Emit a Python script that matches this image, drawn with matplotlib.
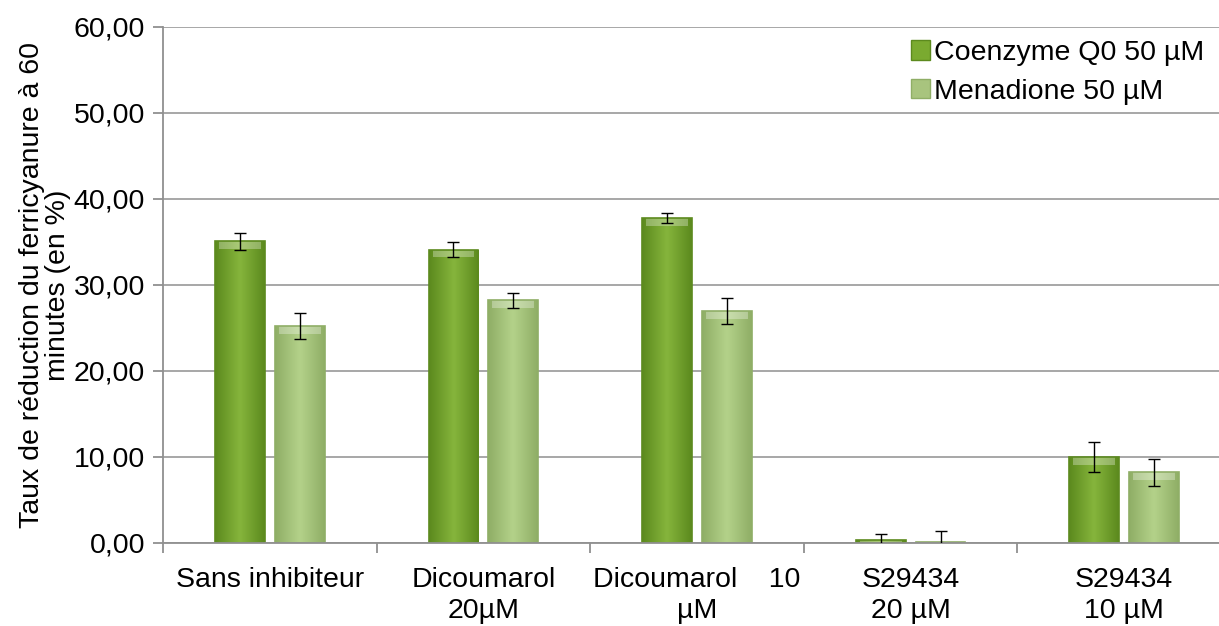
import numpy as np
import matplotlib.pyplot as plt
from matplotlib.colors import LinearSegmentedColormap
from matplotlib.ticker import FuncFormatter, FixedLocator

plt.rcParams['font.family'] = ['Liberation Sans', 'DejaVu Sans']

categories = ['Sans inhibiteur', 'Dicoumarol\n20µM', 'Dicoumarol    10\nµM',
              'S29434\n20 µM', 'S29434\n10 µM']
series = ['Coenzyme Q0 50 µM', 'Menadione 50 µM']
coq0 = [35.1, 34.1, 37.8, 0.4, 10.0]
coq0_err = [1.0, 0.9, 0.6, 0.6, 1.8]
mena = [25.2, 28.2, 27.0, 0.15, 8.2]
mena_err = [1.5, 0.9, 1.5, 1.3, 1.6]

# edge / centre / edge shades for the bevel look
shades = [['#5c8a1e', '#86b53c', '#5c8a1e'],
          ['#8fae66', '#b4d28a', '#8fae66']]
legend_colors = ['#7aaa30', '#a8c47e']
fs = 20.5

fig = plt.figure(figsize=(12.19, 6.26), dpi=100)
ax = fig.add_axes([163 / 1219, 83 / 626, 1068 / 1219, 516 / 626])

x = np.arange(len(categories))
w = 0.234
off = 0.14

for i, (vals, errs) in enumerate([(coq0, coq0_err), (mena, mena_err)]):
    pos = x - off if i == 0 else x + off
    bars = ax.bar(pos, vals, w, color=legend_colors[i], edgecolor='none', zorder=2)
    cmap = LinearSegmentedColormap.from_list('s%d' % i, shades[i])
    grad = np.linspace(0, 1, 64).reshape(1, -1)
    for b in bars:
        bx, bw, bh = b.get_x(), b.get_width(), b.get_height()
        im = ax.imshow(grad, cmap=cmap, aspect='auto', extent=(bx, bx + bw, 0, bh),
                       zorder=2.1, interpolation='bicubic')
        im.set_clip_path(b)
        # lighter top cap
        cap = min(0.9, bh)
        ax.add_patch(plt.Rectangle((bx + bw * 0.08, bh - cap), bw * 0.84, cap,
                                   color='white', alpha=0.3, lw=0, zorder=2.2))
        ax.add_patch(plt.Rectangle((bx, 0), bw, bh, fill=False,
                                   edgecolor=shades[i][0], lw=1.2, zorder=2.3))
    ax.errorbar(pos, vals, yerr=errs, fmt='none', ecolor='black', elinewidth=1,
                capsize=4.5, capthick=1, zorder=3)

ax.set_xlim(-0.5, len(categories) - 0.5)
ax.set_ylim(0, 60)
ax.set_yticks(np.arange(0, 61, 10))
ax.yaxis.set_major_formatter(FuncFormatter(lambda v, p: ('%.2f' % v).replace('.', ',')))
ax.grid(axis='y', color='#a0a0a0', lw=1.3, zorder=0)
ax.set_axisbelow(True)

ax.set_xticks(x)
ax.set_xticklabels(categories, fontsize=fs, linespacing=1.25)
ax.xaxis.set_minor_locator(FixedLocator(np.arange(-0.5, len(categories), 1)))
ax.tick_params(axis='x', which='major', length=0, pad=17)
ax.tick_params(axis='x', which='minor', length=7, color='#909090', width=1.3)
ax.tick_params(axis='y', length=7, color='#909090', width=1.3, labelsize=fs, pad=6)

for s in ['top', 'right']:
    ax.spines[s].set_visible(False)
for s in ['left', 'bottom']:
    ax.spines[s].set_color('#909090')
    ax.spines[s].set_linewidth(1.3)

ax.set_ylabel('Taux de réduction du ferricyanure à 60\nminutes (en %)', fontsize=fs,
              linespacing=1.0)
ax.yaxis.set_label_coords(-0.086, 0.5)

handles = [plt.Rectangle((0, 0), 1, 1, facecolor=c, edgecolor='#5c8a1e' if i == 0 else '#8fae66')
           for i, c in enumerate(legend_colors)]
fig.legend(handles, series, loc='upper left', bbox_to_anchor=(911 / 1219, 1 - 40 / 626),
           frameon=False, fontsize=fs, handlelength=0.65, handleheight=0.65,
           handletextpad=0.15, labelspacing=0.45, borderaxespad=0, borderpad=0)

fig.savefig('out.png', dpi=100)
